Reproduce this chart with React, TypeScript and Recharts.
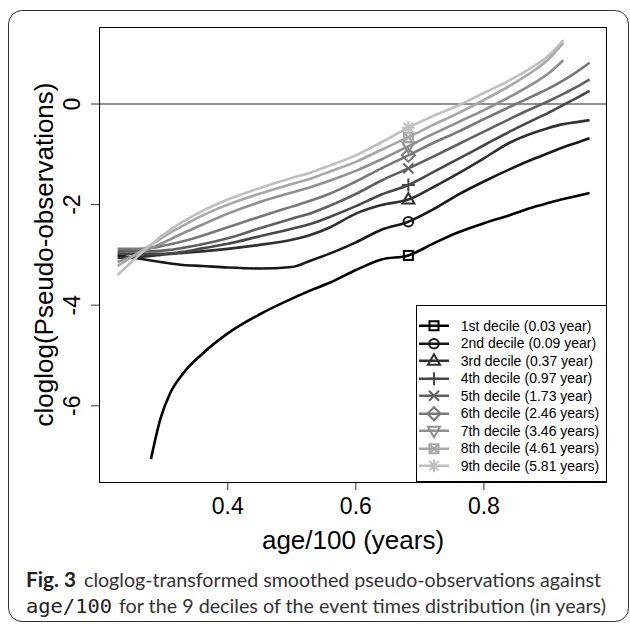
import React from 'react';
import { LineChart, Line, XAxis, YAxis, ReferenceLine, Legend } from 'recharts';

// age/100 grid shared by all curves
const AGE = [0.228, 0.26, 0.28, 0.295, 0.31, 0.33, 0.36, 0.4, 0.45, 0.5, 0.53, 0.56, 0.6, 0.64, 0.682, 0.72, 0.76, 0.8, 0.84, 0.88, 0.9, 0.924, 0.945, 0.965];

// cloglog(pseudo-observations), one array per decile
const D1 = [null, null, -7.06, -6.25, -5.75, -5.36, -4.97, -4.56, -4.18, -3.87, -3.7, -3.55, -3.3, -3.09, -3.01, -2.78, -2.55, -2.37, -2.21, -2.04, -1.97, -1.89, -1.83, -1.77];
const D2 = [-3.01, -3.07, -3.11, -3.14, -3.17, -3.2, -3.22, -3.25, -3.27, -3.24, -3.11, -2.97, -2.75, -2.5, -2.34, -2.1, -1.8, -1.54, -1.3, -1.08, -0.98, -0.86, -0.77, -0.68];
const D3 = [-3.06, -3.04, -3.02, -3.0, -2.98, -2.96, -2.93, -2.88, -2.8, -2.7, -2.6, -2.45, -2.18, -2.01, -1.9, -1.66, -1.38, -1.08, -0.77, -0.56, -0.48, -0.4, -0.36, -0.32];
const D4 = [-2.97, -2.98, -2.98, -2.98, -2.97, -2.94, -2.87, -2.78, -2.63, -2.48, -2.38, -2.24, -2.03, -1.8, -1.61, -1.36, -1.09, -0.82, -0.55, -0.3, -0.18, -0.02, 0.12, 0.26];
const D5 = [-2.92, -2.93, -2.93, -2.92, -2.9, -2.86, -2.79, -2.67, -2.47, -2.28, -2.17, -2.02, -1.79, -1.52, -1.28, -1.05, -0.8, -0.55, -0.3, -0.06, 0.05, 0.2, 0.34, 0.49];
const D6 = [-2.88, -2.88, -2.86, -2.83, -2.79, -2.73, -2.62, -2.45, -2.24, -2.04, -1.92, -1.78, -1.54, -1.28, -1.02, -0.78, -0.55, -0.3, -0.06, 0.18, 0.3, 0.47, 0.64, 0.82];
const D7 = [-3.14, -2.98, -2.87, -2.78, -2.69, -2.57, -2.4, -2.18, -1.95, -1.76, -1.65, -1.52, -1.33, -1.1, -0.84, -0.6, -0.36, -0.12, 0.14, 0.43, 0.6, 0.87, null, null];
const D8 = [-3.22, -2.96, -2.8, -2.68, -2.56, -2.42, -2.22, -2.0, -1.78, -1.59, -1.48, -1.34, -1.15, -0.91, -0.66, -0.42, -0.18, 0.08, 0.36, 0.68, 0.88, 1.22, null, null];
const D9 = [-3.4, -3.02, -2.8, -2.64, -2.5, -2.34, -2.13, -1.9, -1.67, -1.47, -1.36, -1.22, -1.02, -0.76, -0.47, -0.24, -0.03, 0.22, 0.47, 0.77, 0.95, 1.27, null, null];

const SERIES = [D1, D2, D3, D4, D5, D6, D7, D8, D9];
const LABELS = [
  '1st decile (0.03 year)',
  '2nd decile (0.09 year)',
  '3rd decile (0.37 year)',
  '4th decile (0.97 year)',
  '5th decile (1.73 year)',
  '6th decile (2.46 years)',
  '7th decile (3.46 years)',
  '8th decile (4.61 years)',
  '9th decile (5.81 years)',
];
const COLORS = ['#000000', '#181818', '#303030', '#484848', '#606060', '#787878', '#8f8f8f', '#a7a7a7', '#bfbfbf'];
const SHAPES = ['square', 'circle', 'triangle', 'plus', 'cross', 'diamond', 'triangleDown', 'squareCross', 'asterisk'];
const MARKER_AGE = 0.682;
const X_TICKS = [0.4, 0.6, 0.8];
const Y_TICKS = [-6, -4, -2, 0];

const data = AGE.map((age, i) => {
  const row: Record<string, number | null> = { age };
  SERIES.forEach((s, k) => {
    row['d' + (k + 1)] = s[i];
  });
  return row;
});

const FONT = '"Liberation Sans", Arial, Helvetica, sans-serif';
const CAPTION_FONT = 'Lato, "Noto Sans", sans-serif';

function Symbol({ shape, cx, cy, color }: { shape: string; cx: number; cy: number; color: string }) {
  const p = { fill: 'none', stroke: color, strokeWidth: 2 };
  switch (shape) {
    case 'square':
      return <rect x={cx - 4.5} y={cy - 4.5} width={9} height={9} {...p} />;
    case 'circle':
      return <circle cx={cx} cy={cy} r={4.8} {...p} />;
    case 'triangle':
      return <polygon points={`${cx},${cy - 6.5} ${cx - 6},${cy + 4} ${cx + 6},${cy + 4}`} {...p} />;
    case 'plus':
      return <path d={`M${cx - 6.5},${cy}H${cx + 6.5}M${cx},${cy - 6.5}V${cy + 6.5}`} {...p} />;
    case 'cross':
      return <path d={`M${cx - 5},${cy - 5}L${cx + 5},${cy + 5}M${cx - 5},${cy + 5}L${cx + 5},${cy - 5}`} {...p} />;
    case 'diamond':
      return <polygon points={`${cx},${cy - 6.5} ${cx + 6.5},${cy} ${cx},${cy + 6.5} ${cx - 6.5},${cy}`} {...p} />;
    case 'triangleDown':
      return <polygon points={`${cx},${cy + 6.5} ${cx - 6},${cy - 4} ${cx + 6},${cy - 4}`} {...p} />;
    case 'squareCross':
      return (
        <g>
          <rect x={cx - 4.5} y={cy - 4.5} width={9} height={9} {...p} />
          <path d={`M${cx - 4.5},${cy - 4.5}L${cx + 4.5},${cy + 4.5}M${cx - 4.5},${cy + 4.5}L${cx + 4.5},${cy - 4.5}`} {...p} />
        </g>
      );
    default:
      return (
        <path
          d={`M${cx - 6.5},${cy}H${cx + 6.5}M${cx},${cy - 6.5}V${cy + 6.5}M${cx - 4.6},${cy - 4.6}L${cx + 4.6},${cy + 4.6}M${cx - 4.6},${cy + 4.6}L${cx + 4.6},${cy - 4.6}`}
          {...p}
        />
      );
  }
}

const makeDot = (k: number) => (props: any) => {
  const { cx, cy, payload, index } = props;
  if (!payload || payload.age !== MARKER_AGE || cy == null) return <g key={`n-${k}-${index}`} />;
  return (
    <g key={`m-${k}-${index}`}>
      <Symbol shape={SHAPES[k]} cx={cx} cy={cy} color={COLORS[k]} />
    </g>
  );
};

const XTick = ({ x, y, payload }: any) => (
  <text x={x} y={y + 22} textAnchor="middle" fontSize={23} fontFamily={FONT} fill="#000">
    {payload.value}
  </text>
);

const YTick = ({ x, y, payload }: any) => (
  <text
    x={x - 9}
    y={y}
    transform={`rotate(-90, ${x - 9}, ${y})`}
    textAnchor="middle"
    fontSize={23}
    fontFamily={FONT}
    fill="#000"
  >
    {payload.value}
  </text>
);

const LegendBox = () => (
  <div style={{ border: '1px solid #000', background: '#fff', width: 191, height: 177, paddingTop: 11, boxSizing: 'border-box' }}>
    {LABELS.map((label, k) => (
      <div key={label} style={{ display: 'flex', alignItems: 'center', height: 17.5 }}>
        <svg width={44} height={17.5} style={{ flex: 'none' }}>
          <line x1={2} x2={32} y1={8.75} y2={8.75} stroke={COLORS[k]} strokeWidth={2.5} />
          <Symbol shape={SHAPES[k]} cx={17} cy={8.75} color={COLORS[k]} />
        </svg>
        <span style={{ fontFamily: FONT, fontSize: 14, color: '#000', whiteSpace: 'nowrap' }}>{label}</span>
      </div>
    ))}
  </div>
);

export default function App() {
  return (
    <div style={{ position: 'absolute', left: 0, top: 0, width: 630, height: 626, background: '#fff' }}>
      <div
        style={{
          position: 'absolute',
          left: 8,
          top: 10,
          width: 621,
          height: 612,
          border: '1.5px solid #333',
          borderRadius: 14,
          boxSizing: 'border-box',
        }}
      />
      <div style={{ position: 'absolute', left: 0, top: 0 }}>
        <LineChart width={630} height={560} data={data} margin={{ top: 27, right: 23, left: 39, bottom: 38 }}>
          <XAxis
            dataKey="age"
            type="number"
            domain={[0.1989, 0.9922]}
            allowDataOverflow
            ticks={X_TICKS}
            tick={<XTick />}
            tickSize={8}
            tickLine={{ stroke: '#333' }}
            axisLine={false}
            height={40}
          />
          <YAxis
            type="number"
            domain={[-7.515, 1.531]}
            allowDataOverflow
            ticks={Y_TICKS}
            tick={<YTick />}
            tickSize={8}
            tickLine={{ stroke: '#333' }}
            axisLine={false}
            width={60}
          />
          <ReferenceLine y={0} stroke="#222" strokeWidth={1.2} />
          {SERIES.map((_, k) => (
            <Line
              key={k}
              type="monotone"
              dataKey={'d' + (k + 1)}
              name={LABELS[k]}
              stroke={COLORS[k]}
              strokeWidth={2.6}
              dot={makeDot(k)}
              activeDot={false}
              connectNulls={false}
              isAnimationActive={false}
            />
          ))}
          <Legend
            layout="horizontal"
            verticalAlign="middle"
            align="center"
            content={<LegendBox />}
            wrapperStyle={{ position: 'absolute', left: 415.7, top: 305, width: 191, height: 177 }}
          />
        </LineChart>
      </div>
      {/* plot frame (R box) */}
      <div
        style={{
          position: 'absolute',
          left: 98.5,
          top: 26.5,
          width: 508.5,
          height: 456,
          border: '1.2px solid #000',
          boxSizing: 'border-box',
          pointerEvents: 'none',
        }}
      />
      <svg width={630} height={626} style={{ position: 'absolute', left: 0, top: 0, pointerEvents: 'none' }}>
        <text x={353} y={549} textAnchor="middle" fontFamily={FONT} fontSize={26} fill="#000">
          age/100 (years)
        </text>
        <text
          x={53}
          y={254.5}
          transform="rotate(-90, 53, 254.5)"
          textAnchor="middle"
          fontFamily={FONT}
          fontSize={26}
          fill="#000"
        >
          cloglog(Pseudo-observations)
        </text>
        <text x={26} y={587} fontFamily={CAPTION_FONT} fontWeight={700} fontSize={20} fill="#222" textLength={50} lengthAdjust="spacingAndGlyphs">
          Fig. 3
        </text>
        <text x={84} y={587} fontFamily={CAPTION_FONT} fontSize={20} fill="#333" textLength={517} lengthAdjust="spacingAndGlyphs">
          cloglog-transformed smoothed pseudo-observations against
        </text>
        <text x={26} y={613} fontFamily='"DejaVu Sans Mono", monospace' fontSize={20} fill="#222" textLength={86} lengthAdjust="spacingAndGlyphs">
          age/100
        </text>
        <text x={119} y={613} fontFamily={CAPTION_FONT} fontSize={20} fill="#333" textLength={487} lengthAdjust="spacingAndGlyphs">
          for the 9 deciles of the event times distribution (in years)
        </text>
      </svg>
    </div>
  );
}
